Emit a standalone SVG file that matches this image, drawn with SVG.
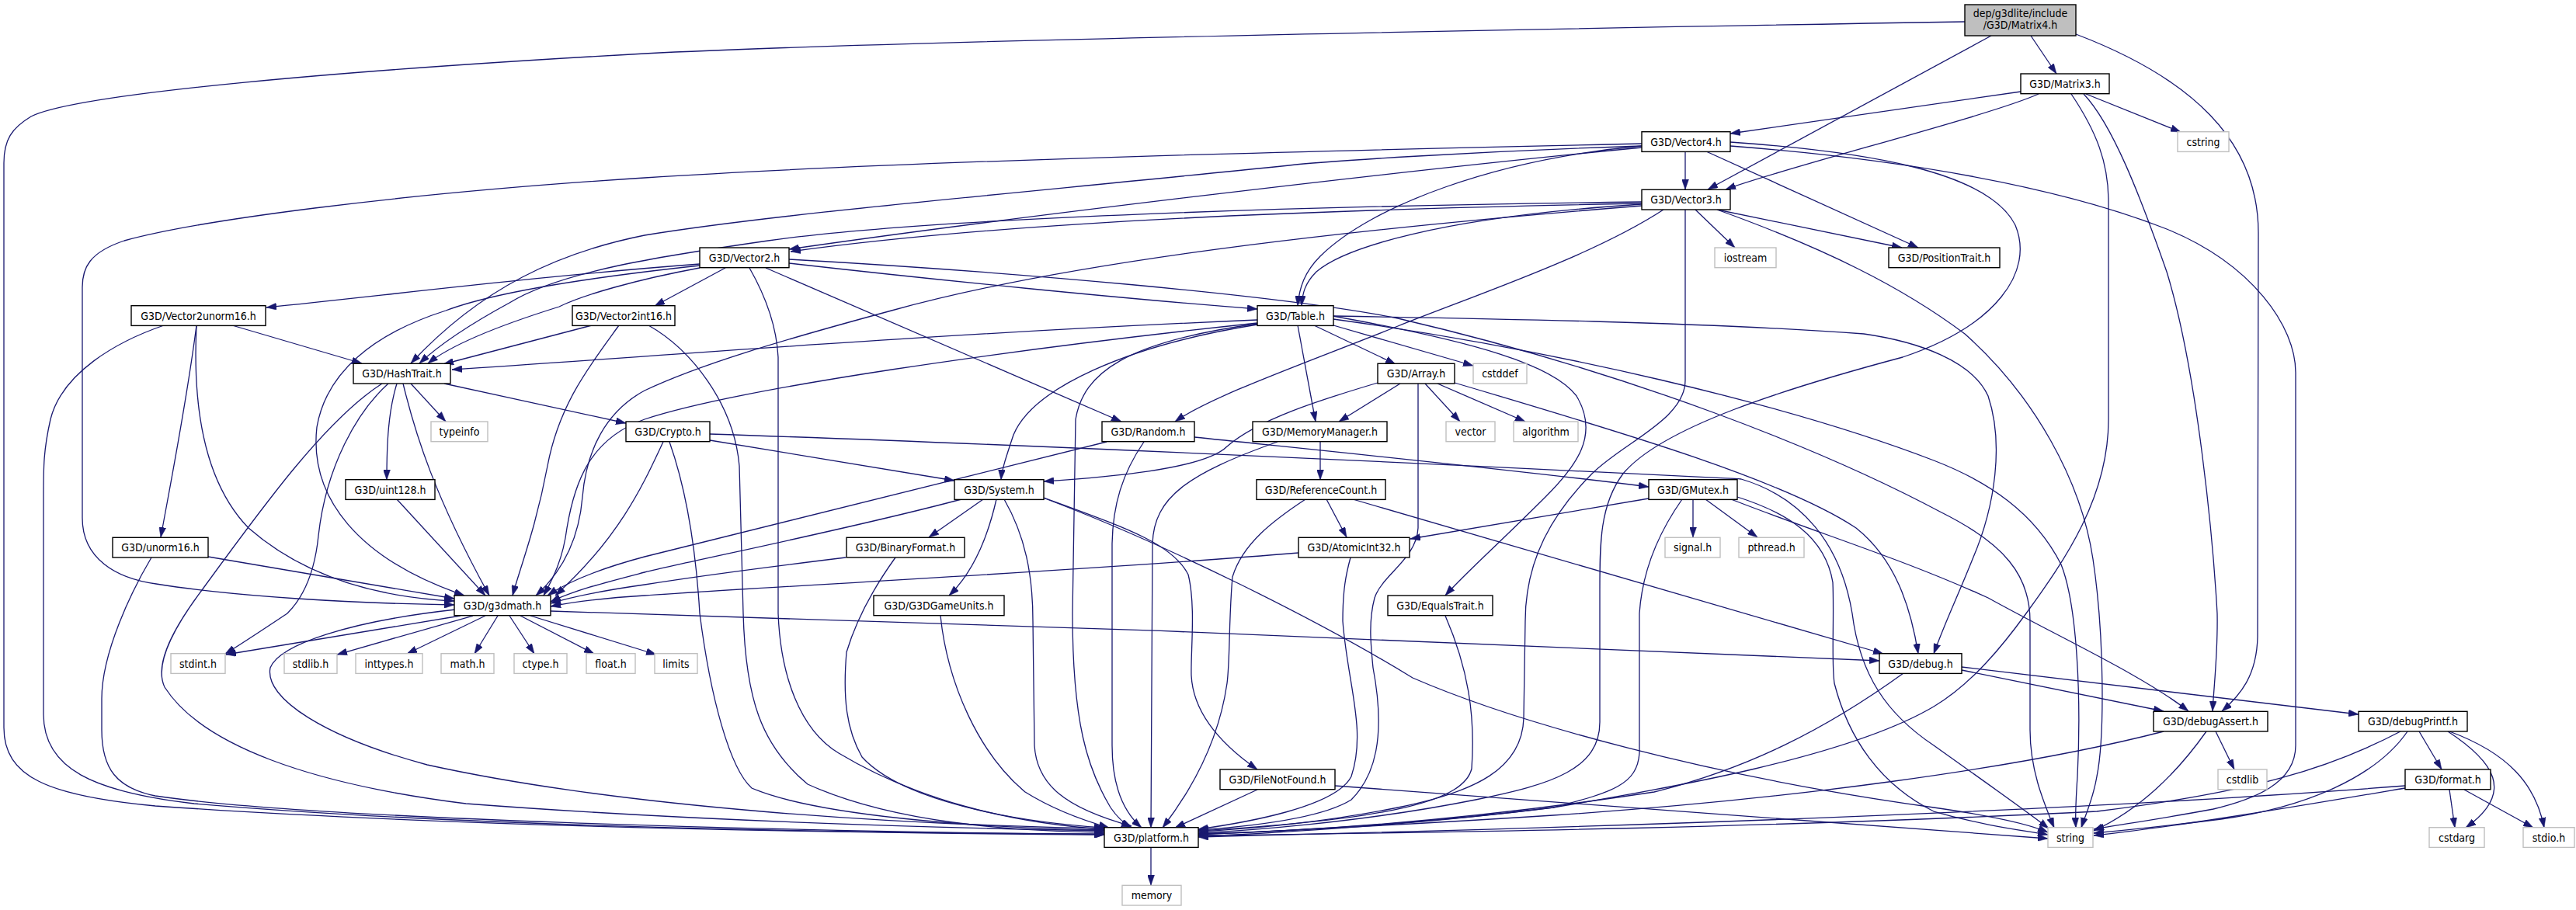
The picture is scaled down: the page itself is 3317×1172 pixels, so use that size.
<svg xmlns="http://www.w3.org/2000/svg" width="3317" height="1172" viewBox="0 0 3317 1172">
<style>
.n rect{fill:#fff;stroke:#000;stroke-width:1.4}
.s rect{fill:#fff;stroke:#bfbfbf;stroke-width:1.4}
.r rect{fill:#bfbfbf;stroke:#000;stroke-width:1.4}
text{font-family:"DejaVu Sans Condensed","Liberation Sans",Arial,sans-serif;font-size:14px;text-anchor:middle;fill:#000}
#edges path{fill:none;stroke:#191970;stroke-width:1.3;marker-end:url(#a)}
</style>
<defs>
<marker id="a" viewBox="0 0 13 9" refX="13" refY="4.5" markerWidth="13" markerHeight="9" markerUnits="userSpaceOnUse" orient="auto"><path d="M0,0 L13,4.5 L0,9 z" fill="#191970" stroke="#191970" stroke-width="0.5"/></marker>
</defs>
<rect width="3317" height="1172" fill="#fff"/>
<g id="edges">
<path d="M2530,28 C1700,42 1100,55 830,69 C450,90 100,120 40,150 C15,165 5,180 5,210 L5,937 C5,1000 60,1025 200,1038 C600,1066 1100,1073 1422,1075"/>
<path d="M2564,46 L2199,244"/>
<path d="M2615,46 L2648,95"/>
<path d="M2673,44 C2820,100 2908,180 2908,300 L2907,820 C2906,870 2885,895 2861,916"/>
<path d="M2602,118 L2228,172"/>
<path d="M2625,121 C2560,150 2300,215 2222,244"/>
<path d="M2667,121 C2700,170 2715,210 2715,260 L2715,540 C2715,640 2660,720 2609,790 C2580,830 2540,880 2490,910 C2380,975 2150,1015 2000,1040 C1800,1065 1600,1075 1543,1077"/>
<path d="M2683,121 C2720,160 2755,250 2790,350 C2830,480 2850,700 2855,790 C2856,840 2851,880 2849,916"/>
<path d="M2686,121 L2808,170"/>
<path d="M2170,195 L2170,244"/>
<path d="M2197,195 L2470,319"/>
<path d="M2114,185 C1800,192 1200,205 830,229 C500,250 250,285 160,310 C115,325 106,345 106,370 L106,667 C106,720 150,745 201,752 C300,768 450,777 585,779"/>
<path d="M2114,188 C1900,195 1700,208 1660,213 C1300,250 1000,275 830,303 C720,325 620,370 529,468"/>
<path d="M2114,190 C1800,220 1300,280 1016,321"/>
<path d="M2114,188 C1925,205 1766,265 1700,330 C1680,350 1673,370 1671,394"/>
<path d="M2228,183 C2400,195 2560,220 2595,290 C2620,350 2570,420 2450,460 C2300,500 2140,550 2090,610 C2060,650 2060,700 2060,760 L2060,930 C2060,990 2000,1010 1900,1030 C1750,1060 1600,1070 1543,1073"/>
<path d="M2228,188 C2450,205 2650,240 2790,295 C2900,340 2956,420 2956,480 L2956,960 C2956,1010 2900,1030 2850,1042 C2780,1055 2730,1062 2696,1068"/>
<path d="M2114,260 C1700,265 1200,280 989,310 C850,330 720,350 656,390 C610,415 570,440 540,468"/>
<path d="M2114,262 C1700,270 1300,285 1018,324"/>
<path d="M2114,265 C1800,290 1400,330 1148,400 C1000,440 900,470 830,503 C780,530 755,580 750,640 C745,700 720,740 690,767"/>
<path d="M2114,263 C1850,280 1730,320 1695,350 C1680,365 1677,378 1676,394"/>
<path d="M2142,270 C2050,330 1900,380 1800,420 C1680,468 1560,510 1513,543"/>
<path d="M2170,270 L2170,490 C2170,540 2090,570 2050,610 C2000,660 1964,720 1964,800 L1962,925 C1960,990 1900,1020 1800,1040 C1700,1060 1600,1068 1543,1071"/>
<path d="M2183,270 L2234,319"/>
<path d="M2211,270 L2449,319"/>
<path d="M2211,270 C2350,320 2450,370 2530,430 C2620,510 2680,620 2695,720 C2710,820 2710,950 2700,1000 C2695,1030 2685,1050 2680,1066"/>
<path d="M901,340 C700,355 500,380 343,396"/>
<path d="M901,342 C780,355 640,375 574,400 C480,430 420,480 408,550 C398,640 460,720 598,767"/>
<path d="M901,345 C820,360 750,380 720,395 C640,420 580,445 551,468"/>
<path d="M934,345 L843,394"/>
<path d="M965,345 C985,380 1000,420 1002,460 L1002,790 C1005,870 1030,940 1080,970 C1180,1030 1300,1060 1422,1068"/>
<path d="M986,345 L1444,543"/>
<path d="M1016,339 C1200,360 1450,385 1619,398"/>
<path d="M1016,334 C1300,350 1650,380 1800,410 C2100,480 2350,580 2500,660 C2580,700 2614,740 2614,800 L2614,940 C2614,990 2630,1030 2645,1066"/>
<path d="M299,419 L466,468"/>
<path d="M253,419 C240,520 220,620 207,692"/>
<path d="M253,419 C248,520 262,620 320,680 C400,750 500,770 585,774"/>
<path d="M211,419 C150,440 80,480 65,540 C56,580 56,600 56,640 L56,920 C56,990 120,1020 250,1035 C600,1065 1100,1073 1422,1074"/>
<path d="M762,419 L571,469"/>
<path d="M797,419 C760,470 720,520 705,600 C690,680 670,730 660,767"/>
<path d="M835,419 C890,450 945,520 952,600 L957,790 C960,900 980,960 1040,1010 C1150,1060 1300,1070 1422,1072"/>
<path d="M268,717 L585,771"/>
<path d="M195,718 C170,760 131,840 131,900 L131,940 C131,990 150,1015 200,1025 C400,1055 1000,1070 1422,1075"/>
<path d="M529,494 L574,543"/>
<path d="M511,494 C500,530 498,570 498,618"/>
<path d="M519,494 C535,560 560,640 630,767"/>
<path d="M572,494 L806,545"/>
<path d="M500,494 C460,530 420,600 410,690 C405,740 390,770 370,790 C340,810 310,830 290,842"/>
<path d="M492,494 C420,540 340,650 260,760 C215,820 200,860 212,885 C260,960 400,1010 600,1035 C900,1058 1200,1066 1422,1070"/>
<path d="M511,643 L625,767"/>
<path d="M914,567 L1229,619"/>
<path d="M854,569 C830,620 800,690 715,767"/>
<path d="M914,559 C1400,575 2000,605 2242,617 C2320,640 2370,700 2385,790 C2395,870 2430,920 2490,960 C2560,1010 2610,1045 2638,1067"/>
<path d="M862,569 C880,620 895,690 901,790 C915,900 940,990 968,1015 C1050,1050 1250,1066 1422,1069"/>
<path d="M1619,412 C1200,430 900,455 582,476"/>
<path d="M1619,416 C1300,450 950,500 830,540 C760,565 740,620 730,680 C725,720 712,745 700,767"/>
<path d="M1619,417 C1450,440 1395,480 1385,540 L1381,790 C1381,930 1400,990 1430,1040 C1440,1055 1450,1062 1457,1066"/>
<path d="M1619,418 C1450,445 1330,500 1305,560 C1295,590 1290,605 1289,618"/>
<path d="M1671,419 L1694,543"/>
<path d="M1692,419 L1797,469"/>
<path d="M1717,419 L1897,471"/>
<path d="M1716,407 C1900,440 2000,470 2030,510 C2060,560 2030,600 1990,640 C1930,700 1885,740 1861,767"/>
<path d="M1717,411 C2000,450 2300,520 2490,593 C2560,620 2620,660 2654,727 C2675,780 2680,900 2675,1000 C2673,1030 2672,1050 2673,1066"/>
<path d="M1717,407 C1900,410 2200,415 2400,430 C2470,440 2540,465 2560,510 C2580,570 2570,650 2540,720 C2520,770 2505,800 2490,842"/>
<path d="M1803,494 L1724,543"/>
<path d="M1835,494 L1880,543"/>
<path d="M1851,494 L1964,543"/>
<path d="M1774,493 C1700,515 1620,540 1580,575 C1550,605 1420,615 1344,620"/>
<path d="M1873,493 C2100,560 2300,620 2390,680 C2440,720 2460,780 2470,842"/>
<path d="M1826,494 L1826,680 C1824,720 1780,740 1770,770 C1762,800 1765,830 1768,860 C1785,950 1770,1000 1740,1030 C1700,1055 1600,1065 1543,1069"/>
<path d="M1425,569 C1200,625 900,700 830,717 C770,733 730,750 705,767"/>
<path d="M1473,569 C1445,610 1433,650 1432,700 L1432,960 C1432,1000 1440,1040 1470,1066"/>
<path d="M1538,563 C1700,580 1950,605 2123,627"/>
<path d="M1700,569 L1700,618"/>
<path d="M1645,569 C1530,610 1486,640 1484,700 L1482,1066"/>
<path d="M1238,643 C1100,680 900,720 830,737 C780,750 740,760 709,775"/>
<path d="M1266,643 L1196,692"/>
<path d="M1283,643 C1270,700 1250,740 1222,767"/>
<path d="M1293,643 C1320,690 1330,740 1330,800 L1332,960 C1335,1010 1370,1040 1457,1064"/>
<path d="M1344,641 C1450,680 1510,700 1530,740 C1540,780 1533,840 1534,870 C1536,910 1560,950 1619,991"/>
<path d="M1343,641 C1500,700 1700,800 1819,873 C1950,930 2200,1000 2490,1040 C2560,1050 2610,1060 2637,1072"/>
<path d="M1089,718 C950,735 880,745 830,753 C780,760 740,768 709,777"/>
<path d="M1153,718 C1130,750 1105,790 1090,840 C1085,900 1090,940 1110,975 C1160,1030 1300,1058 1422,1066"/>
<path d="M1211,793 C1220,880 1260,970 1320,1020 C1360,1045 1400,1058 1428,1066"/>
<path d="M1708,643 L1734,692"/>
<path d="M1742,643 L2425,842"/>
<path d="M1681,643 C1640,670 1600,700 1587,743 C1582,800 1584,850 1580,880 C1570,950 1540,1010 1497,1066"/>
<path d="M2123,642 L1816,694"/>
<path d="M2180,643 L2180,692"/>
<path d="M2196,643 L2263,692"/>
<path d="M2229,643 C2350,690 2450,720 2560,770 C2650,820 2760,870 2818,916"/>
<path d="M2237,640 C2300,660 2350,690 2360,750 C2362,800 2358,850 2362,880 C2380,950 2420,1010 2490,1045 C2560,1065 2610,1070 2637,1075"/>
<path d="M2166,643 C2140,680 2115,730 2111,790 L2111,970 C2108,1010 2078,1020 2000,1040 C1800,1065 1600,1073 1543,1074"/>
<path d="M1672,712 C1400,735 1000,755 830,767 C780,770 740,775 709,781"/>
<path d="M1739,718 C1733,740 1729,760 1729,800 C1735,880 1760,940 1740,1000 C1720,1040 1600,1060 1543,1068"/>
<path d="M1861,793 C1890,860 1900,920 1895,990 C1885,1030 1800,1055 1543,1070"/>
<path d="M1619,1017 L1513,1066"/>
<path d="M1719,1012 C2100,1040 2400,1060 2637,1080"/>
<path d="M593,793 L291,843"/>
<path d="M609,793 L434,843"/>
<path d="M625,793 L524,842"/>
<path d="M641,793 L611,842"/>
<path d="M656,793 L688,842"/>
<path d="M670,793 L765,842"/>
<path d="M683,793 L845,843"/>
<path d="M709,787 C1200,800 2000,830 2420,851"/>
<path d="M587,785 C450,800 360,830 348,860 C340,900 420,950 550,985 C800,1040 1150,1062 1422,1067"/>
<path d="M2526,863 L2786,916"/>
<path d="M2526,859 L3037,920"/>
<path d="M2451,867 C2350,940 2250,990 2130,1020 C1900,1055 1700,1070 1543,1074"/>
<path d="M2786,942 C2600,990 2300,1030 2000,1050 C1800,1063 1650,1070 1543,1075"/>
<path d="M2841,942 C2800,1000 2750,1045 2696,1070"/>
<path d="M2853,942 L2877,991"/>
<path d="M3091,942 C3000,990 2900,1020 2700,1045 C2300,1065 1900,1072 1543,1076"/>
<path d="M3100,942 C3060,1000 2970,1040 2860,1055 C2780,1065 2730,1070 2696,1073"/>
<path d="M3115,942 L3144,991"/>
<path d="M3152,942 C3210,980 3240,1020 3175,1066"/>
<path d="M3154,942 C3230,970 3265,1010 3276,1066"/>
<path d="M3097,1012 C2800,1035 2300,1060 1543,1078"/>
<path d="M3097,1015 C2950,1040 2800,1065 2696,1076"/>
<path d="M3154,1017 L3161,1066"/>
<path d="M3173,1017 L3262,1066"/>
<path d="M1482,1091 L1482,1140"/>
</g>
<g id="Matrix4" class="r"><rect x="2530" y="6" width="143" height="40"/><text x="2601.5" y="22">dep/g3dlite/include</text><text x="2601.5" y="37">/G3D/Matrix4.h</text></g>
<g id="Matrix3" class="n"><rect x="2602" y="95" width="114" height="25.7"/><text x="2659" y="112.8">G3D/Matrix3.h</text></g>
<g id="cstring" class="s"><rect x="2804" y="169.7" width="66" height="25.7"/><text x="2837" y="187.5">cstring</text></g>
<g id="Vector4" class="n"><rect x="2114" y="169.7" width="114" height="25.7"/><text x="2171" y="187.5">G3D/Vector4.h</text></g>
<g id="Vector3" class="n"><rect x="2114" y="244.3" width="114" height="25.7"/><text x="2171" y="262.1">G3D/Vector3.h</text></g>
<g id="Vector2" class="n"><rect x="901" y="319" width="115" height="25.7"/><text x="958.5" y="336.8">G3D/Vector2.h</text></g>
<g id="iostream" class="s"><rect x="2208" y="319" width="79" height="25.7"/><text x="2247.5" y="336.8">iostream</text></g>
<g id="PositionTrait" class="n"><rect x="2432" y="319" width="143" height="25.7"/><text x="2503.5" y="336.8">G3D/PositionTrait.h</text></g>
<g id="Vector2unorm16" class="n"><rect x="169" y="393.7" width="173" height="25.7"/><text x="255.5" y="411.5">G3D/Vector2unorm16.h</text></g>
<g id="Vector2int16" class="n"><rect x="737" y="393.7" width="132" height="25.7"/><text x="803" y="411.5">G3D/Vector2int16.h</text></g>
<g id="Table" class="n"><rect x="1619" y="393.7" width="98" height="25.7"/><text x="1668" y="411.5">G3D/Table.h</text></g>
<g id="HashTrait" class="n"><rect x="455" y="468.3" width="125" height="25.7"/><text x="517.5" y="486.1">G3D/HashTrait.h</text></g>
<g id="Array" class="n"><rect x="1774" y="468.3" width="99" height="25.7"/><text x="1823.5" y="486.1">G3D/Array.h</text></g>
<g id="cstddef" class="s"><rect x="1897" y="468.3" width="69" height="25.7"/><text x="1931.5" y="486.1">cstddef</text></g>
<g id="typeinfo" class="s"><rect x="555" y="543" width="73" height="25.7"/><text x="591.5" y="560.8">typeinfo</text></g>
<g id="Crypto" class="n"><rect x="806" y="543" width="108" height="25.7"/><text x="860" y="560.8">G3D/Crypto.h</text></g>
<g id="Random" class="n"><rect x="1419" y="543" width="119" height="25.7"/><text x="1478.5" y="560.8">G3D/Random.h</text></g>
<g id="MemoryManager" class="n"><rect x="1613" y="543" width="173" height="25.7"/><text x="1699.5" y="560.8">G3D/MemoryManager.h</text></g>
<g id="vector" class="s"><rect x="1862" y="543" width="63" height="25.7"/><text x="1893.5" y="560.8">vector</text></g>
<g id="algorithm" class="s"><rect x="1949" y="543" width="83" height="25.7"/><text x="1990.5" y="560.8">algorithm</text></g>
<g id="uint128" class="n"><rect x="445" y="617.7" width="115" height="25.7"/><text x="502.5" y="635.5">G3D/uint128.h</text></g>
<g id="System" class="n"><rect x="1229" y="617.7" width="115" height="25.7"/><text x="1286.5" y="635.5">G3D/System.h</text></g>
<g id="ReferenceCount" class="n"><rect x="1618" y="617.7" width="166" height="25.7"/><text x="1701" y="635.5">G3D/ReferenceCount.h</text></g>
<g id="GMutex" class="n"><rect x="2123" y="617.7" width="114" height="25.7"/><text x="2180" y="635.5">G3D/GMutex.h</text></g>
<g id="unorm16" class="n"><rect x="145" y="692.3" width="123" height="25.7"/><text x="206.5" y="710.1">G3D/unorm16.h</text></g>
<g id="BinaryFormat" class="n"><rect x="1090" y="692.3" width="152" height="25.7"/><text x="1166" y="710.1">G3D/BinaryFormat.h</text></g>
<g id="AtomicInt32" class="n"><rect x="1672" y="692.3" width="143" height="25.7"/><text x="1743.5" y="710.1">G3D/AtomicInt32.h</text></g>
<g id="signal" class="s"><rect x="2144" y="692.3" width="71" height="25.7"/><text x="2179.5" y="710.1">signal.h</text></g>
<g id="pthread" class="s"><rect x="2239" y="692.3" width="84" height="25.7"/><text x="2281" y="710.1">pthread.h</text></g>
<g id="g3dmath" class="n"><rect x="585" y="767" width="124" height="25.7"/><text x="647" y="784.8">G3D/g3dmath.h</text></g>
<g id="G3DGameUnits" class="n"><rect x="1125" y="767" width="168" height="25.7"/><text x="1209" y="784.8">G3D/G3DGameUnits.h</text></g>
<g id="EqualsTrait" class="n"><rect x="1787" y="767" width="135" height="25.7"/><text x="1854.5" y="784.8">G3D/EqualsTrait.h</text></g>
<g id="stdint" class="s"><rect x="220" y="841.7" width="70" height="25.7"/><text x="255" y="859.5">stdint.h</text></g>
<g id="stdlib" class="s"><rect x="366" y="841.7" width="68" height="25.7"/><text x="400" y="859.5">stdlib.h</text></g>
<g id="inttypes" class="s"><rect x="458" y="841.7" width="86" height="25.7"/><text x="501" y="859.5">inttypes.h</text></g>
<g id="math" class="s"><rect x="568" y="841.7" width="68" height="25.7"/><text x="602" y="859.5">math.h</text></g>
<g id="ctype" class="s"><rect x="662" y="841.7" width="68" height="25.7"/><text x="696" y="859.5">ctype.h</text></g>
<g id="float" class="s"><rect x="755" y="841.7" width="63" height="25.7"/><text x="786.5" y="859.5">float.h</text></g>
<g id="limits" class="s"><rect x="843" y="841.7" width="55" height="25.7"/><text x="870.5" y="859.5">limits</text></g>
<g id="debug" class="n"><rect x="2420" y="841.7" width="106" height="25.7"/><text x="2473" y="859.5">G3D/debug.h</text></g>
<g id="debugAssert" class="n"><rect x="2773" y="916.3" width="147" height="25.7"/><text x="2846.5" y="934.1">G3D/debugAssert.h</text></g>
<g id="debugPrintf" class="n"><rect x="3037" y="916.3" width="140" height="25.7"/><text x="3107" y="934.1">G3D/debugPrintf.h</text></g>
<g id="FileNotFound" class="n"><rect x="1571" y="991" width="148" height="25.7"/><text x="1645" y="1008.8">G3D/FileNotFound.h</text></g>
<g id="cstdlib" class="s"><rect x="2856" y="991" width="63" height="25.7"/><text x="2887.5" y="1008.8">cstdlib</text></g>
<g id="format" class="n"><rect x="3097" y="991" width="110" height="25.7"/><text x="3152" y="1008.8">G3D/format.h</text></g>
<g id="platform" class="n"><rect x="1422" y="1065.7" width="121" height="25.7"/><text x="1482.5" y="1083.5">G3D/platform.h</text></g>
<g id="string" class="s"><rect x="2637" y="1065.7" width="58" height="25.7"/><text x="2666" y="1083.5">string</text></g>
<g id="cstdarg" class="s"><rect x="3128" y="1065.7" width="71" height="25.7"/><text x="3163.5" y="1083.5">cstdarg</text></g>
<g id="stdio" class="s"><rect x="3249" y="1065.7" width="66" height="25.7"/><text x="3282" y="1083.5">stdio.h</text></g>
<g id="memory" class="s"><rect x="1445" y="1140.3" width="76" height="25.7"/><text x="1483" y="1158.1">memory</text></g>
</svg>
